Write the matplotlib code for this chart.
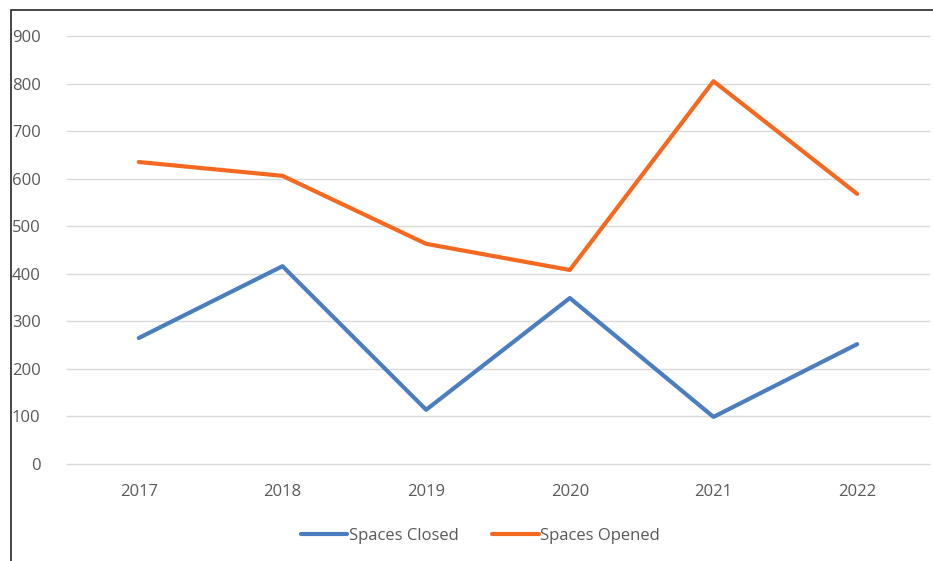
import matplotlib
matplotlib.use("Agg")
import matplotlib.pyplot as plt
from matplotlib.patches import Rectangle

years = ["2017", "2018", "2019", "2020", "2021", "2022"]
closed = [265, 416, 114, 349, 99, 252]
opened = [635, 606, 463, 408, 805, 568]

plt.rcParams['font.family'] = ['Open Sans', 'DejaVu Sans']

fig = plt.figure(figsize=(9.33, 5.61), dpi=100)
ax = fig.add_axes([0.0718, 0.1729, 0.9239, 0.7629])

x = list(range(len(years)))
ax.plot(x, closed, color='#4A7EC1', lw=3, solid_capstyle='round',
        solid_joinstyle='round', label='Spaces Closed')
ax.plot(x, opened, color='#F4691F', lw=3, solid_capstyle='round',
        solid_joinstyle='round', label='Spaces Opened')

ax.set_xlim(-0.5, len(years) - 0.5)
ax.set_ylim(0, 900)
ax.set_yticks(range(0, 901, 100))
ax.set_xticks(x)
ax.set_xticklabels(years)
ax.grid(axis='y', color='#D9D9D9', lw=1)
for gl in ax.get_ygridlines():
    gl.set_clip_on(False)
ax.set_axisbelow(True)
for s in ax.spines.values():
    s.set_visible(False)
ax.tick_params(length=0, colors='#595959', labelsize=12)
ax.tick_params(axis='y', pad=19)
ax.tick_params(axis='x', pad=14.5)

leg = ax.legend(loc='center', bbox_to_anchor=(0.515, 0.044), bbox_transform=fig.transFigure,
                ncol=2, frameon=False, fontsize=12, handlelength=2.8,
                handletextpad=0.1, columnspacing=2.0)
for t in leg.get_texts():
    t.set_color('#595959')

# outer chart border (partly cropped in the original)
fig.patches.append(Rectangle((10.5 / 933, -0.1), 1.2, (561 - 9.5) / 561 + 0.1,
                             transform=fig.transFigure, fill=False,
                             edgecolor='#262626', lw=1.2))

fig.savefig("out.png", dpi=100)
